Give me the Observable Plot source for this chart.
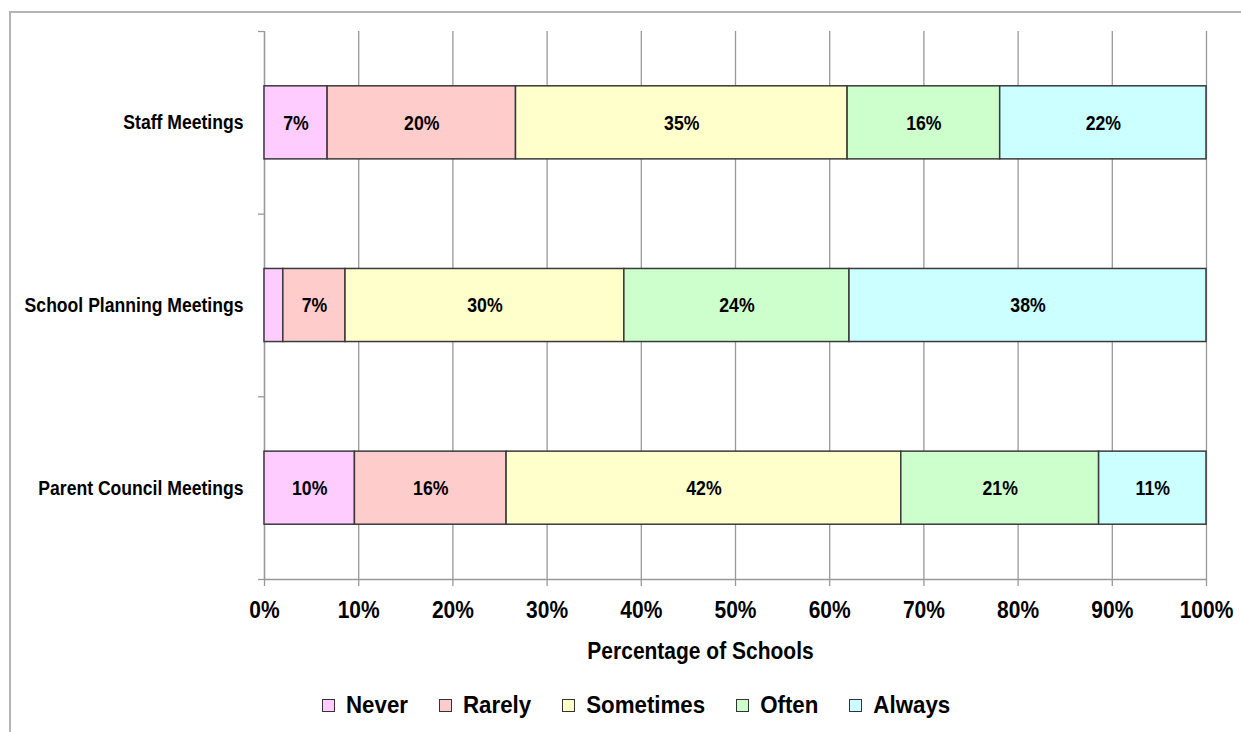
<!DOCTYPE html>
<html><head><meta charset="utf-8">
<script src="https://cdn.jsdelivr.net/npm/d3@7"></script>
<script src="https://cdn.jsdelivr.net/npm/@observablehq/plot@0.6"></script>
<style>
html,body{margin:0;padding:0;background:#fff;overflow:hidden;width:1241px;height:732px;}
#wrap{position:relative;width:1241px;height:732px;font-family:"Liberation Sans",Arial,sans-serif;font-weight:bold;color:#000;}
#frame{position:absolute;left:9px;top:11px;width:1300px;height:800px;border-top:2px solid #b4b4b4;border-left:2px solid #b4b4b4;pointer-events:none;z-index:2;}
#chart{position:absolute;left:0;top:0;}
#legend{position:absolute;left:322px;top:690px;height:30px;display:flex;align-items:center;gap:31px;font-size:22.3px;}
.item{display:flex;align-items:center;}
.item span{display:inline-block;transform:scaleY(1.1);}
.sw{width:11px;height:11px;border:1px solid #333;margin-right:11px;}
</style></head><body><div id="wrap"><div id="chart"></div><div id="legend"></div><div id="frame"></div></div>
<script>
const categories = ["Staff Meetings", "School Planning Meetings", "Parent Council Meetings"];
const responses = ["Never", "Rarely", "Sometimes", "Often", "Always"];
const never     = [6.7, 2.0, 9.6];
const rarely    = [20.0, 6.6, 16.1];
const sometimes = [35.2, 29.6, 41.9];
const often     = [16.2, 23.9, 21.0];
const always    = [21.9, 37.9, 11.4];
const colors = ["#FFCCFF", "#FFCCCC", "#FFFFCC", "#CCFFCC", "#CCFFFF"];
const xTicks = [0, 10, 20, 30, 40, 50, 60, 70, 80, 90, 100];
const xLabel = "Percentage of Schools";

const series = [never, rarely, sometimes, often, always];
const rows = [];
categories.forEach((c, i) => {
  let acc = 0;
  responses.forEach((r, k) => {
    const v = series[k][i];
    rows.push({i, category: c, response: r, value: v, x1: acc, x2: acc + v});
    acc += v;
  });
});
const boundaries = d3.range(categories.length + 1).map(k => k - 0.5);

const W = 1241, H = 672, axisY0 = 579;
const chart = Plot.plot({
  width: W, height: H,
  marginLeft: 264, marginRight: 35, marginTop: 31, marginBottom: H - axisY0,
  style: {fontFamily: "'Liberation Sans', Arial, sans-serif", fontWeight: "bold", background: "transparent", color: "#000"},
  x: {domain: [0, 100]},
  y: {domain: [categories.length - 0.5, -0.5]},
  color: {domain: responses, range: colors},
  marks: [
    Plot.gridX(xTicks, {stroke: "#999", strokeOpacity: 1, strokeWidth: 1.3}),
    Plot.ruleX([0], {stroke: "#999", strokeWidth: 1.3}),
    Plot.ruleY([categories.length - 0.5], {stroke: "#999", strokeWidth: 1.3}),
    Plot.axisY(boundaries, {tickSize: 6, tickFormat: () => "", stroke: "#999", strokeWidth: 1.3, label: null}),
    Plot.axisY(d3.range(categories.length), {tickSize: 0, tickPadding: 21, tickFormat: i => categories[i], fontSize: 17.6, label: null}),
    Plot.axisX(xTicks, {tickSize: 7, tickPadding: 14, tickFormat: d => d + "%", fontSize: 21, label: null, stroke: "#999", strokeWidth: 1.3}),
    Plot.rect(rows, {x1: "x1", x2: "x2", y1: d => d.i - 0.2, y2: d => d.i + 0.2, fill: "response", stroke: "#3a3a3a", strokeWidth: 1.5}),
    Plot.text(rows.filter(d => d.value >= 3), {x: d => (d.x1 + d.x2) / 2, y: "i", text: d => Math.round(d.value) + "%", fontSize: 17.7, fill: "#000"}),
    Plot.text([xLabel], {frameAnchor: "bottom", dx: -35, dy: 79, fontSize: 21, text: d => d, fill: "#000", className: "xtitle"})
  ]
});
document.getElementById("chart").appendChild(chart);

// Arial-like glyphs in the original are taller than wide: stretch text vertically about its own anchor
chart.querySelectorAll("text").forEach(t => {
  const tr = t.getAttribute("transform");
  if (tr && tr.includes("translate")) {
    const k = t.closest(".xtitle") ? 1.1 : 1.18;
    t.setAttribute("transform", tr + ` scale(1,${k})`);
  }
});

const legend = document.getElementById("legend");
responses.forEach((r, k) => {
  const item = document.createElement("div");
  item.className = "item";
  const sw = document.createElement("div");
  sw.className = "sw";
  sw.style.background = colors[k];
  const t = document.createElement("span");
  t.textContent = r;
  item.appendChild(sw); item.appendChild(t);
  legend.appendChild(item);
});
</script>
</body></html>
